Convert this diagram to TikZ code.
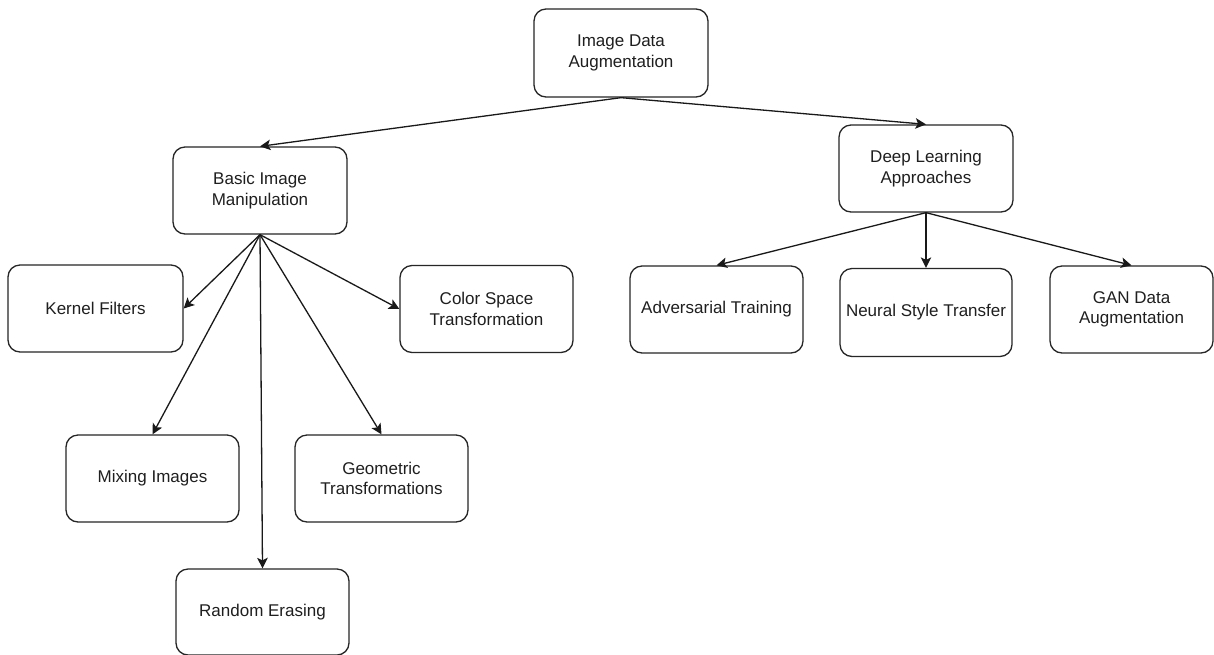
\documentclass[tikz,border=0pt]{standalone}
\usepackage{fontspec}
\setmainfont{Liberation Sans}
\usetikzlibrary{arrows.meta}
\begin{document}
\begin{tikzpicture}[x=1pt,y=-1pt,
  box/.style={draw=black!85, line width=1.3pt, rounded corners=12pt, fill=white,
    align=center, inner sep=0pt, minimum width=173pt, minimum height=87pt,
    font=\fontsize{17}{20.5}\selectfont, text=black!88},
  conn/.style={draw=black!90, line width=1.3pt, -{Stealth[length=10.5pt,width=10.5pt,inset=2.5pt]}}]
\useasboundingbox[fill=white] (0,0) rectangle (1214,654);
\node[box, minimum width=174pt, minimum height=88pt] (ida) at (621,53) {Image Data\\Augmentation};
\node[box, minimum width=174pt] (bim) at (260,190.5) {Basic Image\\Manipulation};
\node[box, minimum width=174pt] (dla) at (926,168.5) {Deep Learning\\Approaches};
\node[box, minimum width=175pt] (kf) at (95.5,308.5) {Kernel Filters};
\node[box] (cst) at (486.5,309) {Color Space\\Transformation};
\node[box] (at) at (716.5,309.5) {Adversarial Training};
\node[box, minimum width=172pt, minimum height=88pt] (nst) at (926,312.5) {Neural Style Transfer};
\node[box, minimum width=163pt] (gan) at (1131.5,309.5) {GAN Data\\Augmentation};
\node[box] (mi) at (152.5,478.5) {Mixing Images};
\node[box] (gt) at (381.5,478.5) {Geometric\\Transformations};
\node[box, minimum height=86pt] (re) at (262.5,612) {Random Erasing};
\draw[conn] (ida.south) -- (bim.north);
\draw[conn] (ida.south) -- (dla.north);
\draw[conn] (bim.south) -- (kf.east);
\draw[conn] (bim.south) -- (cst.west);
\draw[conn] (bim.south) -- (mi.north);
\draw[conn] (bim.south) -- (gt.north);
\draw[conn] (bim.south) -- (re.north);
\draw[conn] (dla.south) -- (at.north);
\draw[conn] (dla.south) -- (nst.north);
\draw[conn] (dla.south) -- (gan.north);
\end{tikzpicture}
\end{document}
